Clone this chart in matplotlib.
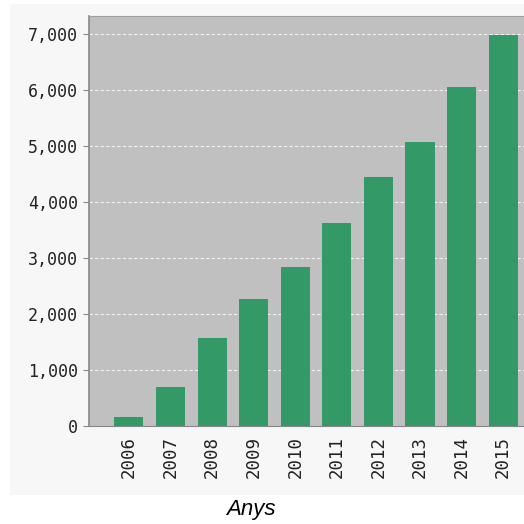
import matplotlib.pyplot as plt
import matplotlib.ticker as ticker
from matplotlib.patches import Rectangle

anys = ['2006', '2007', '2008', '2009', '2010', '2011', '2012', '2013', '2014', '2015']
valors = [160, 690, 1570, 2270, 2840, 3625, 4445, 5070, 6055, 6980]
y_ticks = [0, 1000, 2000, 3000, 4000, 5000, 6000, 7000]

fig = plt.figure(figsize=(5.24, 5.24), dpi=100)
fig.set_facecolor('white')

# panell gris clar de fons
fig.patches.append(Rectangle((10 / 524, 29 / 524), 514 / 524, 491 / 524,
                             transform=fig.transFigure, facecolor='#f7f7f7',
                             edgecolor='none', zorder=-5))

ax = fig.add_axes([89 / 524, 98 / 524, 435 / 524, 410 / 524])
ax.set_zorder(1)
ax.set_facecolor('#c0c0c0')

x = list(range(len(anys)))
ax.bar(x, valors, width=0.7, color='#339966', zorder=3)

ax.set_xlim(-0.96, 9.5)
ax.set_ylim(0, 7320)
ax.set_yticks(y_ticks)
ax.yaxis.set_major_formatter(ticker.StrMethodFormatter('{x:,.0f}'))
ax.set_xticks(x)
ax.set_xticklabels(anys, rotation=90, family='DejaVu Sans Mono')
for lab in ax.get_yticklabels():
    lab.set_family('DejaVu Sans Mono')

ax.grid(axis='y', color='white', linestyle=(0, (3, 2)), linewidth=0.8, alpha=0.8, zorder=1)
ax.tick_params(axis='y', length=4, color='#888888', labelsize=12, labelcolor='#222222', pad=4)
ax.tick_params(axis='x', length=0, labelsize=12.5, labelcolor='#222222', pad=7)

ax.spines['right'].set_visible(False)
ax.spines['top'].set_color('#a0a0a0')
ax.spines['left'].set_color('#888888')
ax.spines['bottom'].set_color('#888888')
ax.spines['left'].set_linewidth(1.2)

fig.text(251 / 524, 14 / 524, 'Anys', ha='center', va='center', fontsize=16,
         style='italic', family='Liberation Sans', color='black')

fig.savefig('out.png', dpi=100)
